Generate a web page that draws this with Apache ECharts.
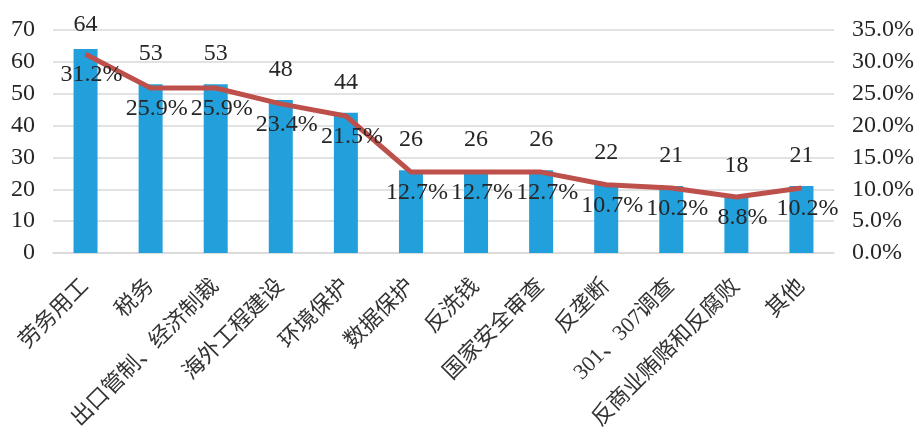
<!DOCTYPE html>
<html>
<head>
<meta charset="utf-8">
<script src="https://cdn.jsdelivr.net/npm/echarts@6/dist/echarts.min.js"></script>
<style>
html,body{margin:0;padding:0;background:#fff;}
#main{width:919px;height:439px;}
</style>
</head>
<body>
<div id="main"></div>
<script>
const categories = ['劳务用工','税务','出口管制、经济制裁','海外工程建设','环境保护','数据保护','反洗钱','国家安全审查','反垄断','301、307调查','反商业贿赂和反腐败','其他'];
const counts = [64,53,53,48,44,26,26,26,22,21,18,21];
const percents = [31.2,25.9,25.9,23.4,21.5,12.7,12.7,12.7,10.7,10.2,8.8,10.2];
const leftTicks = {min:0, max:70, interval:10};
const rightTicks = {min:0, max:0.35, interval:0.05};

const FONT = "'Liberation Serif','Noto Sans CJK SC',serif";
const TXT = '#262626';
const chart = echarts.init(document.getElementById('main'));
chart.setOption({
  animation:false,
  grid:{left:53,right:85,top:30,bottom:186},
  xAxis:{
    type:'category',
    data:categories,
    axisLine:{lineStyle:{color:'#D9D9D9',width:1.5}},
    axisTick:{show:false},
    axisLabel:{rotate:45,interval:0,margin:30,fontSize:22,color:'#333',fontFamily:FONT}
  },
  yAxis:[{
    type:'value',min:leftTicks.min,max:leftTicks.max,interval:leftTicks.interval,
    axisLine:{show:false},axisTick:{show:false},
    splitLine:{lineStyle:{color:'#D9D9D9',width:1.5}},
    axisLabel:{margin:18,fontSize:24,color:TXT,fontFamily:FONT}
  },{
    type:'value',min:rightTicks.min,max:rightTicks.max,interval:rightTicks.interval,
    axisLine:{show:false},axisTick:{show:false},splitLine:{show:false},
    axisLabel:{margin:18,fontSize:24,color:TXT,fontFamily:FONT,
      formatter:v=>(v*100).toFixed(1)+'%'}
  }],
  series:[{
    type:'bar',
    data:counts.map((v,i)=> i===0 ? {value:v,label:{distance:12}} : v),
    barWidth:24,
    itemStyle:{color:'#22A0DC'},
    label:{show:true,position:'top',distance:18,fontSize:24,color:TXT,fontFamily:FONT}
  },{
    type:'line',
    yAxisIndex:1,
    data:percents.map(v=>v/100),
    symbol:'circle',
    symbolSize:1,
    showSymbol:true,
    itemStyle:{color:'#BE504C'},
    lineStyle:{color:'#BE504C',width:5},
    z:3,
    label:{show:true,position:'bottom',distance:8,offset:[6,0],fontSize:24,color:TXT,fontFamily:FONT,
      formatter:p=>(p.value*100).toFixed(1)+'%'}
  }]
});
</script>
</body>
</html>
